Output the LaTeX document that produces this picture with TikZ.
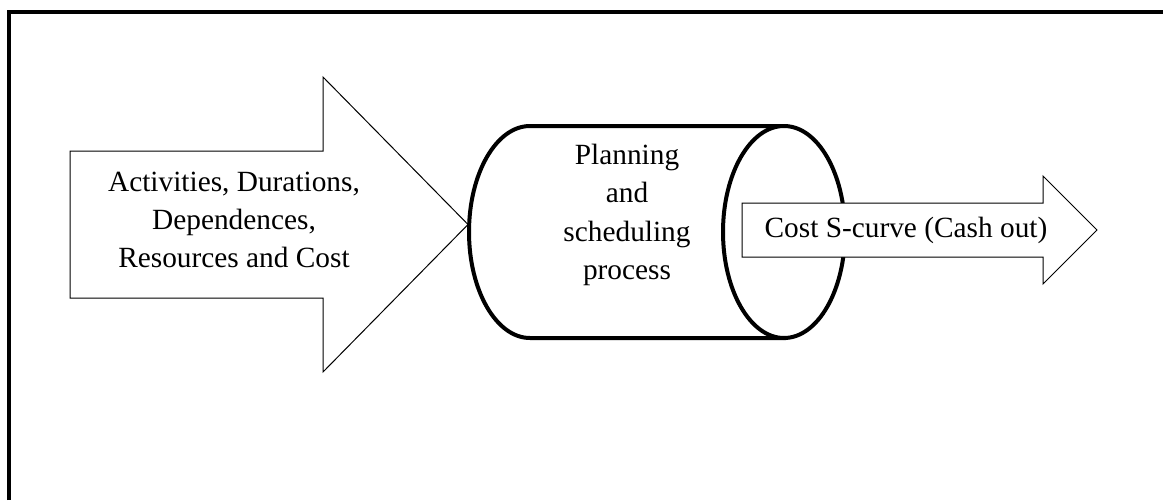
\documentclass[tikz,border=0pt]{standalone}
\usepackage{fontspec}
\setmainfont{Liberation Serif}

\tikzset{
    frameline/.style={line width=3pt},
    drumline/.style={line width=3pt, fill=white},
    arrowline/.style={line width=0.75pt, fill=white},
    label/.style={align=center, inner sep=0pt, font=\fontsize{22}{28.8}\selectfont}
}

% block arrow: tail x, head x, tip x, mid y, half body, half head
\newcommand{\fatarrow}[6]{%
    \draw[arrowline] (#1,#4-#5) -- (#2,#4-#5) -- (#2,#4-#6) -- (#3,#4)
        -- (#2,#4+#6) -- (#2,#4+#5) -- (#1,#4+#5) -- cycle;
}

\begin{document}
\begin{tikzpicture}[x=0.75pt, y=-0.75pt]
    \useasboundingbox (0,0) rectangle (1163,500);
    \def\drumleft{530}
    \def\drumright{784}
    \def\drummid{232}
    \def\rx{61}
    \def\ry{106}

    % frame (only top and left edges fall inside the page)
    \draw[frameline] (9,500) -- (9,11.5) -- (1163,11.5);

    % input arrow
    \fatarrow{70}{323}{468}{224.5}{73.5}{147.5}
    \node[label] (inputs) at (234,220)
        {Activities, Durations,\\Dependences,\\Resources and Cost};

    % process drum
    \draw[drumline] (\drumleft,\drummid-\ry) -- (\drumright,\drummid-\ry)
        -- (\drumright,\drummid+\ry) -- (\drumleft,\drummid+\ry)
        arc (90:270:{\rx} and {\ry}) -- cycle;
    \draw[drumline] (\drumright,\drummid) ellipse [x radius=\rx, y radius=\ry];
    \node[label] (process) at (627,215) {Planning\\and\\scheduling\\process};

    % output arrow
    \fatarrow{742}{1043}{1097}{230}{27}{54}
    \node[label] (output) at (906,230) {Cost S-curve (Cash out)};
\end{tikzpicture}
\end{document}
